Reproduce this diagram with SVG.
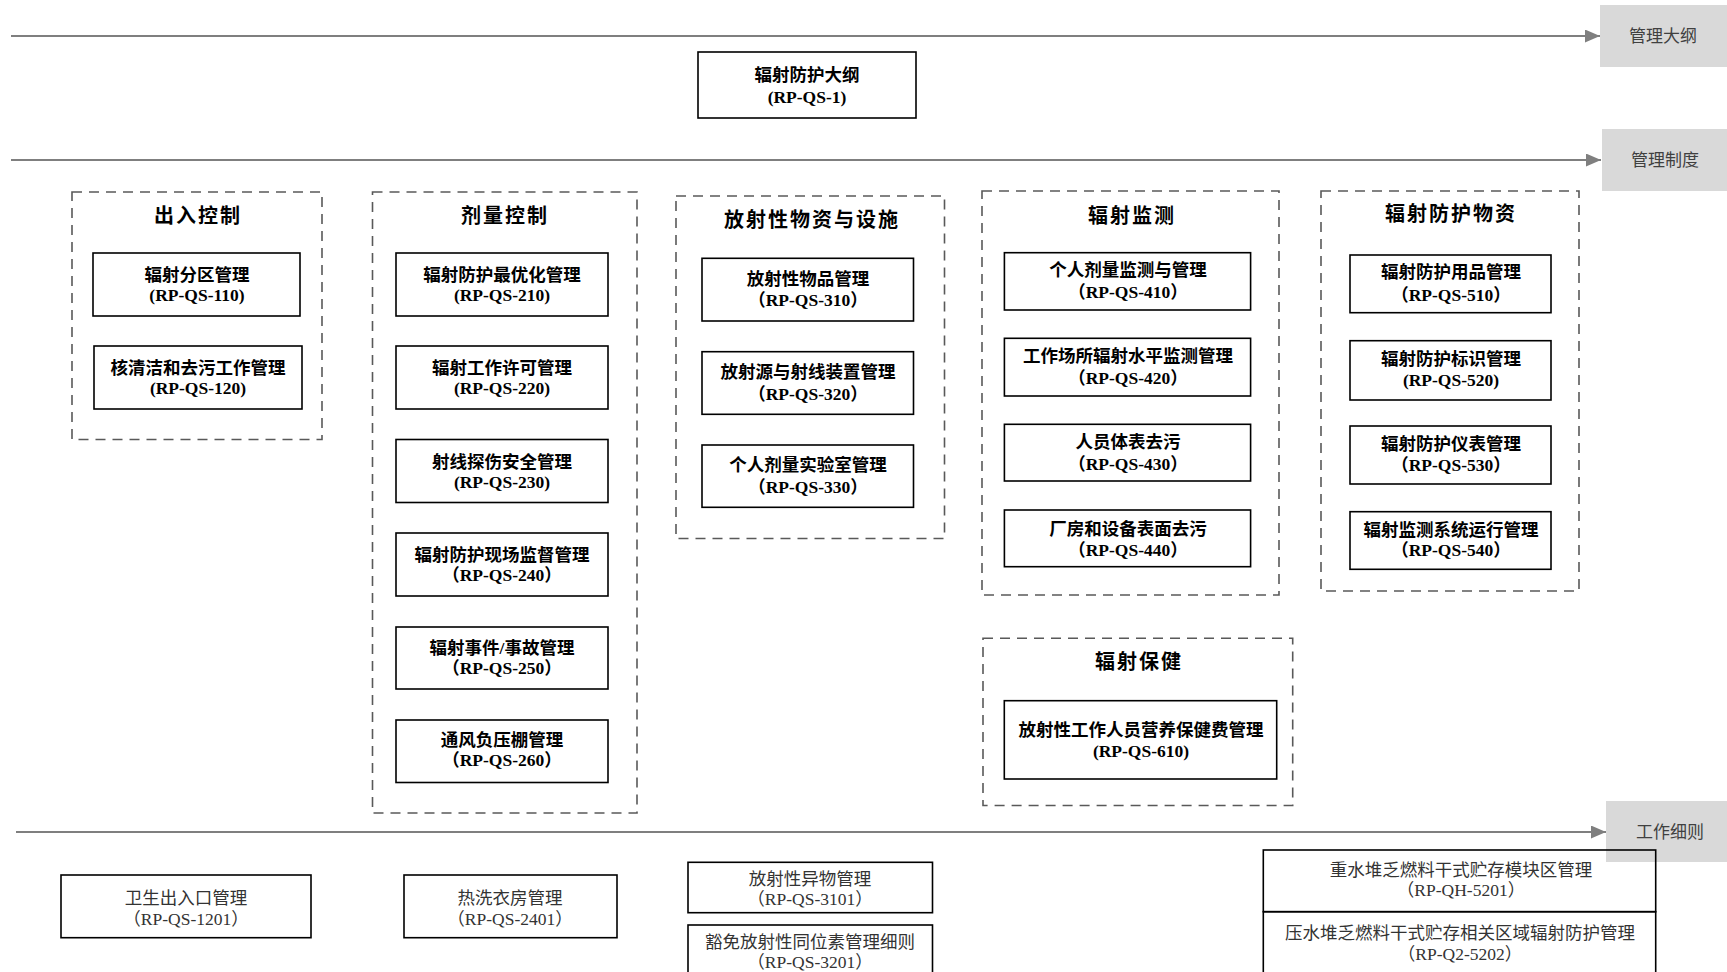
<svg xmlns="http://www.w3.org/2000/svg" width="1727" height="972" viewBox="0 0 1727 972">
<style>
.n{fill:none;stroke:#000;stroke-width:1.6}
.g{fill:none;stroke:#595959;stroke-width:1.6;stroke-dasharray:10 7}
.lane{fill:#d9d9d9}
.ln{stroke:#7f7f7f;stroke-width:2.2;fill:none}
text{font-family:"Liberation Serif","Noto Sans CJK SC",serif;text-anchor:middle}
.b{font-size:17.5px;font-weight:bold;fill:#000}
.r{font-size:17.5px;fill:#333}
.t{font-size:20px;font-weight:bold;letter-spacing:2px;fill:#000}
.lab{font-family:"Noto Sans CJK SC",sans-serif;font-size:17px;fill:#404040}
</style>
<defs>
<marker id="ah" markerUnits="userSpaceOnUse" markerWidth="16" markerHeight="13" refX="15" refY="6.5" orient="auto"><path d="M0,0 L15,6.5 L0,13 z" fill="#7f7f7f"/></marker>
</defs>
<rect width="1727" height="972" fill="#fff"/>
<g id="lanes">
<rect class="lane" x="1600" y="5" width="127" height="62"/>
<text class="lab" x="1663" y="42">管理大纲</text>
<rect class="lane" x="1602" y="129" width="125" height="62"/>
<text class="lab" x="1665" y="166">管理制度</text>
<rect class="lane" x="1606" y="801" width="121" height="61"/>
<text class="lab" x="1670" y="838">工作细则</text>
</g>
<g id="connectors">
<line class="ln" x1="11" y1="36" x2="1600" y2="36" marker-end="url(#ah)"/>
<line class="ln" x1="11" y1="160" x2="1601" y2="160" marker-end="url(#ah)"/>
<line class="ln" x1="16" y1="832" x2="1606" y2="832" marker-end="url(#ah)"/>
</g>
<g id="n-outline"><rect class="n" x="698" y="52" width="218" height="66"/><text class="b" x="807" y="81">辐射防护大纲</text><text class="b" x="807" y="103">(RP-QS-1)</text></g>

<g id="grp-access"><rect class="g" x="72" y="192" width="250" height="247.5"/><text class="t" x="198" y="222.5">出入控制</text></g>
<g id="n-110"><rect class="n" x="93" y="253" width="207" height="63"/><text class="b" x="197" y="281">辐射分区管理</text><text class="b" x="197" y="301">(RP-QS-110)</text></g>
<g id="n-120"><rect class="n" x="94" y="346" width="208" height="63"/><text class="b" x="198" y="374">核清洁和去污工作管理</text><text class="b" x="198" y="394">(RP-QS-120)</text></g>

<g id="grp-dose"><rect class="g" x="372.5" y="192" width="264.5" height="621"/><text class="t" x="505" y="222.5">剂量控制</text></g>
<g id="n-210"><rect class="n" x="396" y="253" width="212" height="63"/><text class="b" x="502" y="281">辐射防护最优化管理</text><text class="b" x="502" y="301">(RP-QS-210)</text></g>
<g id="n-220"><rect class="n" x="396" y="346" width="212" height="63"/><text class="b" x="502" y="374">辐射工作许可管理</text><text class="b" x="502" y="394">(RP-QS-220)</text></g>
<g id="n-230"><rect class="n" x="396" y="439.5" width="212" height="63"/><text class="b" x="502" y="468">射线探伤安全管理</text><text class="b" x="502" y="488">(RP-QS-230)</text></g>
<g id="n-240"><rect class="n" x="396" y="533" width="212" height="63"/><text class="b" x="502" y="561">辐射防护现场监督管理</text><text class="b" x="502" y="581">（RP-QS-240）</text></g>
<g id="n-250"><rect class="n" x="396" y="627" width="212" height="62"/><text class="b" x="502" y="654">辐射事件/事故管理</text><text class="b" x="502" y="674">（RP-QS-250）</text></g>
<g id="n-260"><rect class="n" x="396" y="720" width="212" height="62.5"/><text class="b" x="502" y="746">通风负压棚管理</text><text class="b" x="502" y="766">（RP-QS-260）</text></g>

<g id="grp-material"><rect class="g" x="676" y="196" width="268.5" height="342.5"/><text class="t" x="812" y="226.5">放射性物资与设施</text></g>
<g id="n-310"><rect class="n" x="702" y="258.3" width="211.5" height="62.7"/><text class="b" x="808" y="284.5">放射性物品管理</text><text class="b" x="808" y="306">（RP-QS-310）</text></g>
<g id="n-320"><rect class="n" x="702" y="351.7" width="211.5" height="62.6"/><text class="b" x="808" y="378">放射源与射线装置管理</text><text class="b" x="808" y="399.5">（RP-QS-320）</text></g>
<g id="n-330"><rect class="n" x="702" y="445" width="211.5" height="62.3"/><text class="b" x="808" y="471">个人剂量实验室管理</text><text class="b" x="808" y="493">（RP-QS-330）</text></g>

<g id="grp-monitor"><rect class="g" x="982" y="191" width="297" height="404"/><text class="t" x="1132" y="222.5">辐射监测</text></g>
<g id="n-410"><rect class="n" x="1004.4" y="252.7" width="246.2" height="57.3"/><text class="b" x="1128" y="276">个人剂量监测与管理</text><text class="b" x="1128" y="298">（RP-QS-410）</text></g>
<g id="n-420"><rect class="n" x="1004.4" y="338.3" width="246.2" height="57.7"/><text class="b" x="1128" y="362">工作场所辐射水平监测管理</text><text class="b" x="1128" y="383.5">（RP-QS-420）</text></g>
<g id="n-430"><rect class="n" x="1004.4" y="424.3" width="246.2" height="56.7"/><text class="b" x="1128" y="448">人员体表去污</text><text class="b" x="1128" y="469.5">（RP-QS-430）</text></g>
<g id="n-440"><rect class="n" x="1004.4" y="510" width="246.2" height="56.7"/><text class="b" x="1128" y="534.5">厂房和设备表面去污</text><text class="b" x="1128" y="555.5">（RP-QS-440）</text></g>

<g id="grp-ppe"><rect class="g" x="1321" y="191" width="258" height="400"/><text class="t" x="1451" y="220.5">辐射防护物资</text></g>
<g id="n-510"><rect class="n" x="1350" y="255" width="201" height="57.7"/><text class="b" x="1451" y="278">辐射防护用品管理</text><text class="b" x="1451" y="300.5">（RP-QS-510）</text></g>
<g id="n-520"><rect class="n" x="1350" y="340.7" width="201" height="59.3"/><text class="b" x="1451" y="364.5">辐射防护标识管理</text><text class="b" x="1451" y="386">(RP-QS-520)</text></g>
<g id="n-530"><rect class="n" x="1350" y="426" width="201" height="58"/><text class="b" x="1451" y="449.5">辐射防护仪表管理</text><text class="b" x="1451" y="471">（RP-QS-530）</text></g>
<g id="n-540"><rect class="n" x="1350" y="511.7" width="201" height="57.6"/><text class="b" x="1451" y="535.5">辐射监测系统运行管理</text><text class="b" x="1451" y="556">（RP-QS-540）</text></g>

<g id="grp-health"><rect class="g" x="983" y="638.3" width="309.7" height="167.2"/><text class="t" x="1139" y="669">辐射保健</text></g>
<g id="n-610"><rect class="n" x="1004.3" y="700.7" width="272.4" height="78.3"/><text class="b" x="1141" y="735.5">放射性工作人员营养保健费管理</text><text class="b" x="1141" y="757">(RP-QS-610)</text></g>

<g id="n-1201"><rect class="n" x="61" y="875" width="250" height="62.7"/><text class="r" x="186" y="903.5">卫生出入口管理</text><text class="r" x="186" y="924.5">（RP-QS-1201）</text></g>
<g id="n-2401"><rect class="n" x="404" y="875" width="213" height="62.7"/><text class="r" x="510" y="903.5">热洗衣房管理</text><text class="r" x="510" y="924.5">（RP-QS-2401）</text></g>
<g id="n-3101"><rect class="n" x="688" y="862.3" width="244.5" height="50.4"/><text class="r" x="810" y="884.5">放射性异物管理</text><text class="r" x="810" y="904.5">（RP-QS-3101）</text></g>
<g id="n-3201"><rect class="n" x="688" y="925" width="244.5" height="60"/><text class="r" x="810" y="948">豁免放射性同位素管理细则</text><text class="r" x="810" y="968">（RP-QS-3201）</text></g>
<g id="n-5201"><rect class="n" x="1263.3" y="850" width="392.4" height="61.7"/><text class="r" x="1461" y="876">重水堆乏燃料干式贮存模块区管理</text><text class="r" x="1461" y="896">（RP-QH-5201）</text></g>
<g id="n-5202"><rect class="n" x="1263.3" y="911.7" width="392.4" height="75"/><text class="r" x="1460" y="939">压水堆乏燃料干式贮存相关区域辐射防护管理</text><text class="r" x="1460" y="959.5">（RP-Q2-5202）</text></g>
</svg>
